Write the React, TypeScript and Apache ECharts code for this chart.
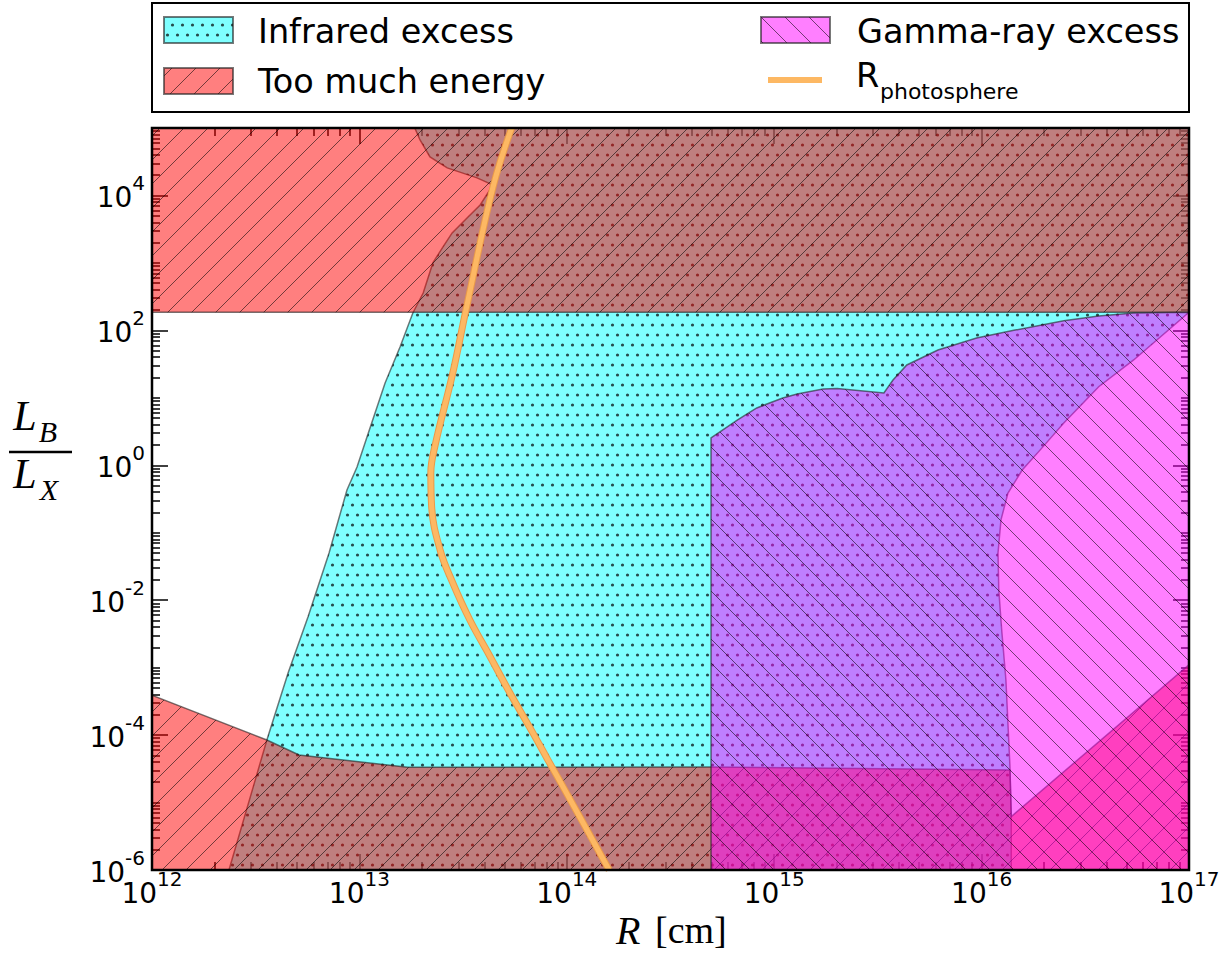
import React, { useEffect, useRef } from 'react';
import * as echarts from 'echarts';

const FONT = 'DejaVu Sans';
const SERIF = 'Liberation Serif';

// Axis ranges and labelled ticks
const X_RANGE = [1e12, 1e17];
const Y_RANGE = [1e-6, 1e5];
const X_TICKS = [1e12, 1e13, 1e14, 1e15, 1e16, 1e17];
const Y_TICKS = [1e-6, 1e-4, 1e-2, 1e0, 1e2, 1e4];
const X_DECADES = [12, 13, 14, 15, 16];
const Y_DECADES = [-6, -5, -4, -3, -2, -1, 0, 1, 2, 3, 4];
const MINOR_FACTORS = [2, 3, 4, 5, 6, 7, 8, 9];

// Region outlines: [R (cm), L_B / L_X]
const INFRARED_EXCESS = [
  [2.35e12, 1e-6], [3.58e12, 8.45e-5], [4.53e12, 8.34e-4], [5.65e12, 5.64e-3],
  [7.14e12, 5.0e-2], [8.71e12, 0.431], [9.74e12, 0.944], [1.076e13, 2.37],
  [1.33e13, 16.6], [1.57e13, 56.7], [1.81e13, 181], [2.03e13, 358],
  [2.26e13, 1000], [2.53e13, 1730], [2.8e13, 2780], [3.34e13, 4800],
  [3.82e13, 7230], [4.41e13, 1.43e4], [3.69e13, 1.82e4], [2.65e13, 2.56e4],
  [2.19e13, 3.72e4], [1.96e13, 6.65e4], [1.85e13, 1e5], [1e17, 1e5],
  [1e17, 185], [5.41e16, 36.4], [3.67e16, 14.6], [2.49e16, 4.24],
  [1.98e16, 1.89], [1.57e16, 0.851], [1.34e16, 0.388], [1.24e16, 0.155],
  [1.2e16, 0.05], [1.21e16, 0.0142], [1.25e16, 3.61e-3], [1.31e16, 6.56e-4],
  [1.37e16, 3.4e-5], [1.39e16, 6.2e-6], [1.39e16, 1e-6],
];

const ENERGY_TOP = [
  [1e12, 185], [1e17, 185], [1e17, 1e5], [1e12, 1e5],
];

const ENERGY_BOTTOM = [
  [1e12, 1e-6], [1e12, 3.9e-4], [3.58e12, 8.45e-5], [5.12e12, 5.07e-5],
  [1.71e13, 3.33e-5], [4.96e14, 3.37e-5], [1.37e16, 3.04e-5], [1.39e16, 6.2e-6],
  [1e17, 1.1e-3], [1e17, 1e-6],
];

const GAMMA_EXCESS = [
  [4.96e14, 1e-6], [4.96e14, 2.54], [6.66e14, 4.7], [8.24e14, 7.08],
  [1.1e15, 9.95], [1.29e15, 11.4], [1.72e15, 13.5], [2.01e15, 13.7],
  [3.38e15, 11.8], [3.74e15, 18.4], [4.36e15, 30.7], [6.16e15, 51.2],
  [9.46e15, 77.1], [1.45e16, 101], [2.49e16, 139], [3.67e16, 163],
  [5.41e16, 181], [1e17, 185], [1e17, 1e-6],
];

const PHOTOSPHERE = [
  [5.42e13, 1e5], [4.41e13, 1.34e4], [3.29e13, 224], [2.82e13, 23.3],
  [2.32e13, 2.0], [2.21e13, 0.77], [2.23e13, 0.243], [2.45e13, 0.0555],
  [2.82e13, 0.018], [3.41e13, 5.08e-3], [4.27e13, 1.45e-3], [5.32e13, 4.21e-4],
  [6.87e13, 1.07e-4], [8.11e13, 4.28e-5], [1.02e14, 1.22e-5], [1.6e14, 1e-6],
];

const CYAN = 'rgba(0,255,255,0.5)';
const RED = 'rgba(255,0,0,0.5)';
const MAGENTA = 'rgba(255,0,255,0.5)';
const EDGE = 'rgba(30,30,30,0.6)';
const ORANGE = '#FDB863';
const ORANGE_EDGE = '#E99A4A';

const GRID = { left: 152, top: 128, width: 1037, height: 742 };
const HATCH = 24;

type Kind = 'dots' | 'ne' | 'nw';

function makePattern(kind: Kind) {
  const w = kind === 'dots' ? 10 : HATCH;
  const h = kind === 'dots' ? 20 : HATCH;
  const c = document.createElement('canvas');
  c.width = w;
  c.height = h;
  const ctx = c.getContext('2d')!;
  if (kind === 'dots') {
    ctx.fillStyle = 'rgba(0,0,0,0.7)';
    for (const [cx, cy] of [[2.5, 5], [7.5, 15]]) {
      ctx.beginPath();
      ctx.arc(cx, cy, 1.6, 0, Math.PI * 2);
      ctx.fill();
    }
  } else {
    ctx.strokeStyle = 'rgba(0,0,0,0.55)';
    ctx.lineWidth = 1;
    for (const x0 of [-HATCH, 0, HATCH]) {
      ctx.beginPath();
      if (kind === 'ne') {
        ctx.moveTo(x0, h);
        ctx.lineTo(x0 + HATCH, 0);
      } else {
        ctx.moveTo(x0, 0);
        ctx.lineTo(x0 + HATCH, h);
      }
      ctx.stroke();
    }
  }
  return { image: c, repeat: 'repeat', imageWidth: w, imageHeight: h };
}

const tickLabel = (v: number) => `{b|10}{s|${Math.round(Math.log10(v))}}`;

const labelRich = {
  b: { fontFamily: FONT, fontSize: 28, color: '#000', lineHeight: 32, verticalAlign: 'bottom' },
  s: { fontFamily: FONT, fontSize: 20, color: '#000', lineHeight: 20, padding: [0, 0, 18, 0], verticalAlign: 'bottom' },
};

function minorValues(decades: number[], top: number) {
  const out: number[] = [];
  for (const d of decades) {
    for (const f of MINOR_FACTORS) {
      const v = f * Math.pow(10, d);
      if (v < top) out.push(v);
    }
  }
  return out;
}

export default function App() {
  const ref = useRef<HTMLDivElement>(null);

  useEffect(() => {
    const chart = echarts.init(ref.current!, null, { renderer: 'svg' });

    const dots = makePattern('dots');
    const ne = makePattern('ne');
    const nw = makePattern('nw');

    const xMinor = minorValues(X_DECADES, X_RANGE[1]);
    const yMinor = [
      ...minorValues(Y_DECADES, Y_RANGE[1]),
      ...Y_DECADES.filter((d) => d % 2 !== 0).map((d) => Math.pow(10, d)),
    ];

    const axisBase = {
      type: 'log',
      logBase: 10,
      axisLine: { show: false },
      splitLine: { show: false },
      minorTick: { show: false },
      minorSplitLine: { show: false },
      z: 0,
    };

    const mkX = (position: string, values: number[], length: number, labels: boolean) => ({
      ...axisBase,
      min: X_RANGE[0],
      max: X_RANGE[1],
      position,
      axisTick: { show: true, inside: true, length, customValues: values, lineStyle: { color: '#000', width: 1.5 } },
      axisLabel: labels
        ? {
            show: true,
            customValues: X_TICKS,
            formatter: tickLabel,
            rich: labelRich,
            margin: 5,
            showMinLabel: true,
            showMaxLabel: true,
          }
        : { show: false },
    });

    const mkY = (position: string, values: number[], length: number, labels: boolean) => ({
      ...axisBase,
      min: Y_RANGE[0],
      max: Y_RANGE[1],
      position,
      axisTick: { show: true, inside: true, length, customValues: values, lineStyle: { color: '#000', width: 1.5 } },
      axisLabel: labels
        ? {
            show: true,
            customValues: Y_TICKS,
            formatter: tickLabel,
            rich: labelRich,
            margin: 7,
            showMinLabel: true,
            showMaxLabel: true,
          }
        : { show: false },
    });

    const region = (name: string, pts: number[][], fill: string, pattern: any) => ({
      type: 'custom',
      name,
      coordinateSystem: 'cartesian2d',
      xAxisIndex: 0,
      yAxisIndex: 0,
      data: pts,
      clip: true,
      silent: true,
      renderItem: (params: any, api: any) => {
        if (params.dataIndex !== 0) return null;
        const points = pts.map((p) => api.coord(p));
        return {
          type: 'group',
          children: [
            { type: 'polygon', shape: { points }, style: { fill, stroke: 'none' } },
            { type: 'polygon', shape: { points }, style: { fill: pattern, stroke: 'none' } },
            { type: 'polygon', shape: { points }, style: { fill: 'none', stroke: EDGE, lineWidth: 1.5 } },
          ],
        };
      },
    });

    const patch = (x: number, y: number, fill: string, pattern: any) => [
      { type: 'rect', shape: { x, y, width: 69, height: 26 }, style: { fill, stroke: 'none' }, z: 60 },
      { type: 'rect', shape: { x, y, width: 69, height: 26 }, style: { fill: pattern, stroke: 'none' }, z: 61 },
      { type: 'rect', shape: { x, y, width: 69, height: 26 }, style: { fill: 'none', stroke: EDGE, lineWidth: 2 }, z: 62 },
    ];

    const legendText = (x: number, y: number, text: string, size = 33.5) => ({
      type: 'text',
      x,
      y,
      z: 62,
      style: { text, fontFamily: FONT, fontSize: size, fill: '#000', align: 'left', verticalAlign: 'middle' },
    });

    const serifText = (x: number, y: number, text: string, size: number, italic = true, align = 'center') => ({
      type: 'text',
      x,
      y,
      z: 62,
      style: {
        text,
        fontFamily: SERIF,
        fontSize: size,
        fontStyle: italic ? 'italic' : 'normal',
        fill: '#000',
        align,
        verticalAlign: 'middle',
      },
    });

    const option: any = {
      animation: false,
      backgroundColor: '#fff',
      grid: { ...GRID, containLabel: false, outerBoundsMode: 'none' },
      xAxis: [
        mkX('bottom', X_TICKS, 16, true),
        mkX('bottom', xMinor, 8, false),
        mkX('top', X_TICKS, 16, false),
        mkX('top', xMinor, 8, false),
      ],
      yAxis: [
        mkY('left', Y_TICKS, 16, true),
        mkY('left', yMinor, 8, false),
        mkY('right', Y_TICKS, 16, false),
        mkY('right', yMinor, 8, false),
      ],
      series: [
        region('Infrared excess', INFRARED_EXCESS, CYAN, dots),
        region('Too much energy', ENERGY_TOP, RED, ne),
        region('Too much energy', ENERGY_BOTTOM, RED, ne),
        region('Gamma-ray excess', GAMMA_EXCESS, MAGENTA, nw),
        {
          type: 'line',
          name: 'R_photosphere outline',
          data: PHOTOSPHERE,
          smooth: 0.4,
          symbol: 'none',
          showSymbol: false,
          clip: true,
          silent: true,
          z: 5,
          lineStyle: { color: ORANGE_EDGE, width: 7 },
        },
        {
          type: 'line',
          name: 'R_photosphere',
          data: PHOTOSPHERE,
          smooth: 0.4,
          symbol: 'none',
          showSymbol: false,
          clip: true,
          silent: true,
          z: 6,
          lineStyle: { color: ORANGE, width: 5 },
        },
      ],
      graphic: [
        // plot frame
        {
          type: 'rect',
          shape: { x: GRID.left, y: GRID.top, width: GRID.width, height: GRID.height },
          style: { fill: 'none', stroke: '#000', lineWidth: 2.5 },
          z: 100,
          silent: true,
        },
        // legend box
        {
          type: 'rect',
          shape: { x: 152, y: 3, width: 1037, height: 109 },
          style: { fill: '#fff', stroke: '#000', lineWidth: 2 },
          z: 50,
        },
        ...patch(164, 17, CYAN, dots),
        ...patch(164, 68, RED, ne),
        ...patch(761, 17, MAGENTA, nw),
        {
          type: 'line',
          shape: { x1: 768, y1: 80, x2: 822, y2: 80 },
          style: { stroke: ORANGE, lineWidth: 6 },
          z: 62,
        },
        legendText(258, 31, 'Infrared excess'),
        legendText(258, 81, 'Too much energy'),
        legendText(857, 31, 'Gamma-ray excess'),
        legendText(856, 75, 'R'),
        legendText(880, 91, 'photosphere', 22),
        // x-axis title
        serifText(616, 930, 'R', 40, true, 'left'),
        serifText(655, 930, '[cm]', 38, false, 'left'),
        // y-axis title: L_B over L_X
        serifText(25, 416, 'L', 42),
        serifText(48, 431, 'B', 30),
        {
          type: 'line',
          shape: { x1: 9, y1: 452, x2: 72, y2: 452 },
          style: { stroke: '#000', lineWidth: 2.5 },
          z: 62,
        },
        serifText(25, 474, 'L', 42),
        serifText(49, 489, 'X', 30),
      ],
    };

    chart.setOption(option);
    return () => chart.dispose();
  }, []);

  return (
    <div
      ref={ref}
      style={{ position: 'fixed', left: 0, top: 0, width: 1227, height: 967, background: '#fff' }}
    />
  );
}
